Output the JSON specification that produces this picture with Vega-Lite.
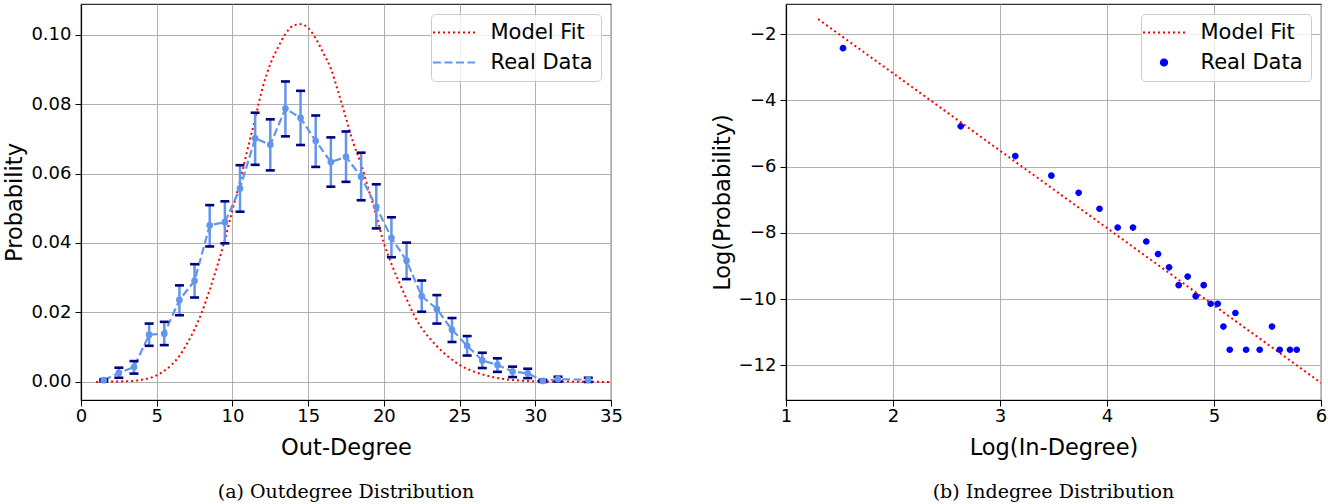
{
  "$schema": "https://vega.github.io/schema/vega-lite/v6.json",
  "background": "white",
  "padding": {"left": 3, "top": 3, "right": 2, "bottom": 0},
  "spacing": 86,
  "resolve": {
    "scale": {"color": "independent", "strokeDash": "independent", "shape": "independent"},
    "legend": {"color": "independent", "strokeDash": "independent", "shape": "independent"}
  },
  "config": {
    "font": "DejaVu Sans",
    "view": {"stroke": "#333333", "strokeWidth": 1.2},
    "axis": {
      "labelFont": "DejaVu Sans", "labelFontSize": 18, "labelColor": "#000000", "labelFlush": false,
      "titleFont": "DejaVu Sans", "titleFontSize": 22.5, "titleFontWeight": "normal", "titleColor": "#000000",
      "tickColor": "#000000", "tickSize": 6, "tickWidth": 1, "domainColor": "#000000", "domainWidth": 1.2,
      "gridColor": "#b0b0b0", "gridWidth": 1
    },
    "axisX": {"titlePadding": 11, "labelPadding": 1},
    "axisY": {"titlePadding": 4, "labelPadding": 4},
    "legend": {
      "orient": "top-right", "offset": 10,
      "labelFont": "DejaVu Sans", "labelFontSize": 21, "labelColor": "#000000",
      "fillColor": "rgba(255,255,255,0.8)", "strokeColor": "#cccccc", "cornerRadius": 4,
      "padding": 8, "rowPadding": 8, "labelOffset": 26, "symbolOffset": 4.5,
      "symbolType": "M-4.2,0H4.2", "symbolSize": 100, "symbolStrokeWidth": 2.2
    },
    "title": {"font": "DejaVu Serif", "fontSize": 19, "fontWeight": "normal", "color": "#000000", "orient": "bottom", "offset": 24}
  },
  "datasets": {
    "outFit": [
      {"x": 1, "p": 0}, {"x": 2, "p": 0.0001}, {"x": 3, "p": 0.0002}, {"x": 4, "p": 0.0006},
      {"x": 5, "p": 0.0019}, {"x": 6, "p": 0.005}, {"x": 6.5, "p": 0.0075}, {"x": 7, "p": 0.011},
      {"x": 7.5, "p": 0.0152}, {"x": 8, "p": 0.0203}, {"x": 8.5, "p": 0.0265}, {"x": 9, "p": 0.0334},
      {"x": 9.5, "p": 0.041}, {"x": 10, "p": 0.0495}, {"x": 10.5, "p": 0.0578}, {"x": 11, "p": 0.067},
      {"x": 11.5, "p": 0.0758}, {"x": 12, "p": 0.0848}, {"x": 12.5, "p": 0.0915}, {"x": 13, "p": 0.0962},
      {"x": 13.5, "p": 0.1002}, {"x": 14, "p": 0.1025}, {"x": 14.5, "p": 0.103}, {"x": 15, "p": 0.1019},
      {"x": 15.5, "p": 0.0989}, {"x": 16, "p": 0.0947}, {"x": 16.5, "p": 0.0902}, {"x": 17, "p": 0.0833},
      {"x": 17.5, "p": 0.0759}, {"x": 18, "p": 0.0686}, {"x": 18.5, "p": 0.0627}, {"x": 19, "p": 0.0552},
      {"x": 19.5, "p": 0.048}, {"x": 20, "p": 0.04}, {"x": 20.5, "p": 0.034}, {"x": 21, "p": 0.0288},
      {"x": 21.5, "p": 0.0239}, {"x": 22, "p": 0.0192}, {"x": 22.5, "p": 0.0155}, {"x": 23, "p": 0.0127},
      {"x": 24, "p": 0.0082}, {"x": 25, "p": 0.0049}, {"x": 26, "p": 0.0029}, {"x": 27, "p": 0.0016},
      {"x": 28, "p": 0.0008}, {"x": 29, "p": 0.0004}, {"x": 30, "p": 0.0002}, {"x": 32, "p": 0.0001},
      {"x": 35, "p": 0}
    ],
    "outReal": [
      {"x": 1.5, "p": 0.0005, "lo": 0.0002, "hi": 0.0008},
      {"x": 2.5, "p": 0.0026, "lo": 0.0012, "hi": 0.0041},
      {"x": 3.5, "p": 0.0043, "lo": 0.0024, "hi": 0.006},
      {"x": 4.5, "p": 0.0136, "lo": 0.0104, "hi": 0.0168},
      {"x": 5.5, "p": 0.0139, "lo": 0.0106, "hi": 0.0173},
      {"x": 6.5, "p": 0.0236, "lo": 0.0192, "hi": 0.0278},
      {"x": 7.5, "p": 0.0291, "lo": 0.0243, "hi": 0.0339},
      {"x": 8.5, "p": 0.0451, "lo": 0.039, "hi": 0.0509},
      {"x": 9.5, "p": 0.046, "lo": 0.0399, "hi": 0.052},
      {"x": 10.5, "p": 0.0557, "lo": 0.049, "hi": 0.0624},
      {"x": 11.5, "p": 0.0701, "lo": 0.0625, "hi": 0.0775},
      {"x": 12.5, "p": 0.0683, "lo": 0.0609, "hi": 0.0756},
      {"x": 13.5, "p": 0.0787, "lo": 0.0707, "hi": 0.0865},
      {"x": 14.5, "p": 0.076, "lo": 0.0682, "hi": 0.0838},
      {"x": 15.5, "p": 0.0694, "lo": 0.0619, "hi": 0.0767},
      {"x": 16.5, "p": 0.0633, "lo": 0.0562, "hi": 0.0704},
      {"x": 17.5, "p": 0.0648, "lo": 0.0576, "hi": 0.0721},
      {"x": 18.5, "p": 0.0591, "lo": 0.0523, "hi": 0.066},
      {"x": 19.5, "p": 0.0504, "lo": 0.0442, "hi": 0.0569},
      {"x": 20.5, "p": 0.0415, "lo": 0.0359, "hi": 0.0474},
      {"x": 21.5, "p": 0.0349, "lo": 0.0296, "hi": 0.0401},
      {"x": 22.5, "p": 0.0247, "lo": 0.0202, "hi": 0.0292},
      {"x": 23.5, "p": 0.021, "lo": 0.0168, "hi": 0.025},
      {"x": 24.5, "p": 0.015, "lo": 0.0115, "hi": 0.0184},
      {"x": 25.5, "p": 0.0104, "lo": 0.0076, "hi": 0.0132},
      {"x": 26.5, "p": 0.0062, "lo": 0.004, "hi": 0.0084},
      {"x": 27.5, "p": 0.0049, "lo": 0.0029, "hi": 0.0068},
      {"x": 28.5, "p": 0.003, "lo": 0.0014, "hi": 0.0044},
      {"x": 29.5, "p": 0.0025, "lo": 0.0011, "hi": 0.0038},
      {"x": 30.5, "p": 0.0003, "lo": 0.0, "hi": 0.0006},
      {"x": 31.5, "p": 0.0008, "lo": 0.0001, "hi": 0.0015},
      {"x": 33.5, "p": 0.0006, "lo": 0.0, "hi": 0.0012}
    ],
    "inFit": [
      {"x": 1.3, "y": -1.54},
      {"x": 6.0, "y": -12.53}
    ],
    "inReal": [
      {"x": 1.533, "y": -2.42}, {"x": 2.633, "y": -4.78}, {"x": 3.143, "y": -5.68},
      {"x": 3.48, "y": -6.27}, {"x": 3.735, "y": -6.79}, {"x": 3.93, "y": -7.27},
      {"x": 4.1, "y": -7.84}, {"x": 4.243, "y": -7.84}, {"x": 4.367, "y": -8.26},
      {"x": 4.477, "y": -8.64}, {"x": 4.58, "y": -9.04}, {"x": 4.67, "y": -9.58},
      {"x": 4.754, "y": -9.32}, {"x": 4.829, "y": -9.91}, {"x": 4.904, "y": -9.58},
      {"x": 4.969, "y": -10.14}, {"x": 5.035, "y": -10.14}, {"x": 5.088, "y": -10.83},
      {"x": 5.147, "y": -11.53}, {"x": 5.2, "y": -10.42}, {"x": 5.3, "y": -11.53},
      {"x": 5.427, "y": -11.53}, {"x": 5.542, "y": -10.83}, {"x": 5.614, "y": -11.53},
      {"x": 5.71, "y": -11.53}, {"x": 5.773, "y": -11.53}
    ]
  },
  "hconcat": [
    {
      "width": 530,
      "height": 396,
      "title": {"text": "(a) Outdegree Distribution"},
      "layer": [
        {
          "data": {"name": "outFit"},
          "mark": {"type": "line", "strokeWidth": 2, "interpolate": "monotone"},
          "encoding": {
            "x": {"field": "x", "type": "quantitative", "scale": {"domain": [0, 35], "nice": false, "zero": false},
                  "axis": {"title": "Out-Degree", "values": [0, 5, 10, 15, 20, 25, 30, 35], "format": "d"}},
            "y": {"field": "p", "type": "quantitative", "scale": {"domain": [-0.0052, 0.1088], "nice": false, "zero": false},
                  "axis": {"title": "Probability", "values": [0, 0.02, 0.04, 0.06, 0.08, 0.1], "format": ".2f"}},
            "color": {
              "datum": "Model Fit", "type": "nominal",
              "scale": {"domain": ["Model Fit", "Real Data"], "range": ["#ff0000", "#6495ed"]},
              "legend": {"title": null}
            },
            "strokeDash": {
              "datum": "Model Fit", "type": "nominal",
              "scale": {"domain": ["Model Fit", "Real Data"], "range": [[2, 3], [8, 3.5]]},
              "legend": {"title": null}
            }
          }
        },
        {
          "data": {"name": "outReal"},
          "mark": {"type": "rule", "color": "#6495ed", "strokeWidth": 2.5},
          "encoding": {
            "x": {"field": "x", "type": "quantitative", "scale": {"domain": [0, 35], "nice": false, "zero": false}},
            "y": {"field": "lo", "type": "quantitative", "scale": {"domain": [-0.0052, 0.1088], "nice": false, "zero": false}},
            "y2": {"field": "hi"}
          }
        },
        {
          "data": {"name": "outReal"},
          "mark": {"type": "line", "strokeWidth": 2.2},
          "encoding": {
            "x": {"field": "x", "type": "quantitative", "scale": {"domain": [0, 35], "nice": false, "zero": false}},
            "y": {"field": "p", "type": "quantitative", "scale": {"domain": [-0.0052, 0.1088], "nice": false, "zero": false}},
            "color": {"datum": "Real Data", "type": "nominal"},
            "strokeDash": {"datum": "Real Data", "type": "nominal"}
          }
        },
        {
          "data": {"name": "outReal"},
          "mark": {"type": "tick", "orient": "horizontal", "color": "#000080", "size": 9, "thickness": 2.6, "opacity": 1},
          "encoding": {
            "x": {"field": "x", "type": "quantitative", "scale": {"domain": [0, 35], "nice": false, "zero": false}},
            "y": {"field": "lo", "type": "quantitative", "scale": {"domain": [-0.0052, 0.1088], "nice": false, "zero": false}}
          }
        },
        {
          "data": {"name": "outReal"},
          "mark": {"type": "tick", "orient": "horizontal", "color": "#000080", "size": 9, "thickness": 2.6, "opacity": 1},
          "encoding": {
            "x": {"field": "x", "type": "quantitative", "scale": {"domain": [0, 35], "nice": false, "zero": false}},
            "y": {"field": "hi", "type": "quantitative", "scale": {"domain": [-0.0052, 0.1088], "nice": false, "zero": false}}
          }
        },
        {
          "data": {"name": "outReal"},
          "mark": {"type": "point", "filled": true, "size": 45, "opacity": 1, "color": "#6495ed"},
          "encoding": {
            "x": {"field": "x", "type": "quantitative", "scale": {"domain": [0, 35], "nice": false, "zero": false}},
            "y": {"field": "p", "type": "quantitative", "scale": {"domain": [-0.0052, 0.1088], "nice": false, "zero": false}}
          }
        }
      ]
    },
    {
      "width": 535,
      "height": 396,
      "title": {"text": "(b) Indegree Distribution"},
      "layer": [
        {
          "data": {"name": "inFit"},
          "mark": {"type": "line", "strokeWidth": 2},
          "encoding": {
            "x": {"field": "x", "type": "quantitative", "scale": {"domain": [1, 6], "nice": false, "zero": false},
                  "axis": {"title": "Log(In-Degree)", "values": [1, 2, 3, 4, 5, 6], "format": "d"}},
            "y": {"field": "y", "type": "quantitative", "scale": {"domain": [-13.048, -1.085], "nice": false, "zero": false},
                  "axis": {"title": "Log(Probability)", "values": [-12, -10, -8, -6, -4, -2], "format": "d"}},
            "color": {
              "datum": "Model Fit", "type": "nominal",
              "scale": {"domain": ["Model Fit", "Real Data"], "range": ["#ff0000", "#0000ff"]},
              "legend": {"title": null, "symbolFillColor": "#0000ff"}
            },
            "strokeDash": {
              "datum": "Model Fit", "type": "nominal",
              "scale": {"domain": ["Model Fit", "Real Data"], "range": [[2, 3], [1, 0]]},
              "legend": {"title": null, "symbolFillColor": "#0000ff"}
            }
          }
        },
        {
          "data": {"name": "inReal"},
          "mark": {"type": "point", "filled": true, "size": 125, "opacity": 1},
          "encoding": {
            "x": {"field": "x", "type": "quantitative", "scale": {"domain": [1, 6], "nice": false, "zero": false}},
            "y": {"field": "y", "type": "quantitative", "scale": {"domain": [-13.048, -1.085], "nice": false, "zero": false}},
            "color": {"datum": "Real Data", "type": "nominal"},
            "shape": {
              "datum": "Real Data", "type": "nominal",
              "scale": {"domain": ["Model Fit", "Real Data"], "range": ["M-4.2,0H4.2", "M-0.6,0A0.6,0.6 0 1,0 0.6,0A0.6,0.6 0 1,0 -0.6,0Z"]},
              "legend": {"title": null, "symbolFillColor": "#0000ff"}
            }
          }
        }
      ]
    }
  ]
}
